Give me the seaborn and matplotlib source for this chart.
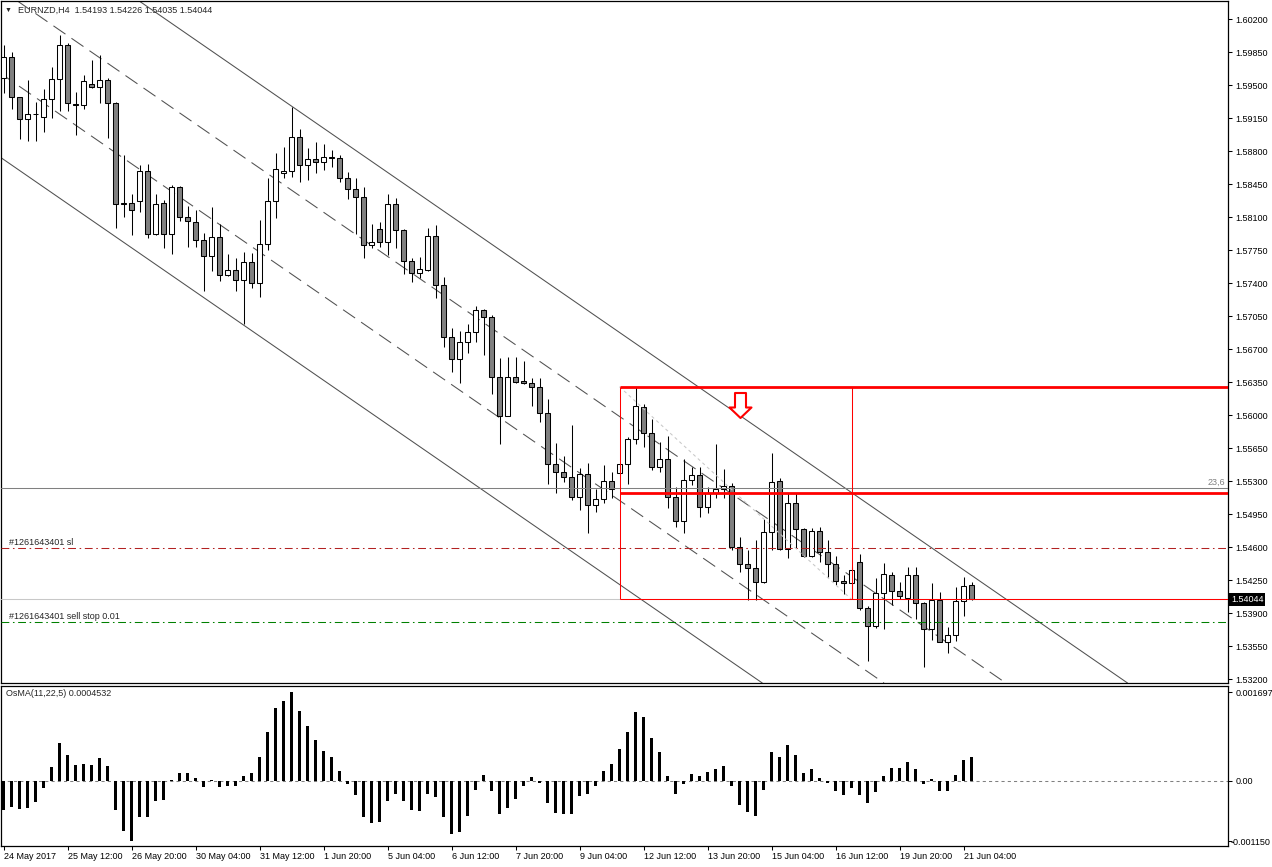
import matplotlib
matplotlib.use("Agg")
import numpy as np
import matplotlib.pyplot as plt
import matplotlib.transforms as mtransforms
from matplotlib.path import Path
import seaborn as sns

sns.set_style("ticks")
plt.rcParams['font.family'] = ['Liberation Sans', 'DejaVu Sans']  # after set_style
plt.rcParams['font.size'] = 6.5

# EURNZD H4 candles, bar 0 = 24 May 2017
opens = [1.59574, 1.59794, 1.59370, 1.59136, 1.59189, 1.59164, 1.59348, 1.59560, 1.59924, 1.59300,
         1.59285, 1.59510, 1.59476, 1.59553, 1.59306, 1.58238, 1.58245, 1.58267, 1.58585, 1.57917,
         1.58245, 1.57917, 1.58415, 1.58097, 1.58047, 1.57856, 1.57686, 1.57885, 1.57482, 1.57538,
         1.57429, 1.57626, 1.57397, 1.57810, 1.58273, 1.58563, 1.58588, 1.58952, 1.58648, 1.58712,
         1.58680, 1.58733, 1.58730, 1.58510, 1.58394, 1.58309, 1.57800, 1.57970, 1.57838, 1.58235,
         1.57962, 1.57637, 1.57503, 1.57540, 1.57899, 1.57376, 1.56831, 1.56591, 1.56771, 1.56877,
         1.57111, 1.57036, 1.56400, 1.55989, 1.56400, 1.56361, 1.56336, 1.56294, 1.56024, 1.55480,
         1.55399, 1.55346, 1.55134, 1.55374, 1.55042, 1.55106, 1.55303, 1.55382, 1.55477, 1.55742,
         1.56082, 1.55806, 1.55445, 1.55530, 1.55127, 1.54879, 1.55311, 1.55360, 1.55021, 1.55170,
         1.55212, 1.55250, 1.54597, 1.54420, 1.54374, 1.54226, 1.54756, 1.55300, 1.54576, 1.55064,
         1.54791, 1.54505, 1.54770, 1.54550, 1.54417, 1.54243, 1.54215, 1.54438, 1.53956, 1.53762,
         1.54109, 1.54303, 1.54133, 1.54056, 1.54303, 1.54003, 1.53727, 1.54038, 1.53596, 1.53664,
         1.54027, 1.54193]
highs = [1.59924, 1.59853, 1.59376, 1.59553, 1.59317, 1.59454, 1.59694, 1.60030, 1.59942, 1.59429,
         1.59606, 1.59765, 1.59818, 1.59571, 1.59323, 1.58758, 1.58344, 1.58652, 1.58662, 1.58344,
         1.58280, 1.58439, 1.58429, 1.58217, 1.58174, 1.57927, 1.58203, 1.58026, 1.57708, 1.57665,
         1.57729, 1.57718, 1.58068, 1.58510, 1.58776, 1.58839, 1.59270, 1.59030, 1.58829, 1.58892,
         1.58874, 1.58811, 1.58758, 1.58580, 1.58510, 1.58415, 1.58023, 1.58044, 1.58344, 1.58298,
         1.57975, 1.57662, 1.57679, 1.57980, 1.58015, 1.57460, 1.56920, 1.56894, 1.56965, 1.57156,
         1.57120, 1.57061, 1.56601, 1.56612, 1.56612, 1.56576, 1.56389, 1.56389, 1.56167, 1.55700,
         1.55565, 1.55894, 1.55435, 1.55494, 1.55212, 1.55470, 1.55399, 1.55477, 1.55770, 1.56300,
         1.56119, 1.55954, 1.55717, 1.55777, 1.55240, 1.55530, 1.55445, 1.55445, 1.55233, 1.55692,
         1.55427, 1.55276, 1.54703, 1.54568, 1.54674, 1.54897, 1.55600, 1.55329, 1.55170, 1.55170,
         1.54798, 1.54798, 1.54815, 1.54674, 1.54505, 1.54303, 1.54391, 1.54526, 1.53974, 1.54268,
         1.54434, 1.54338, 1.54226, 1.54391, 1.54385, 1.54020, 1.54221, 1.54126, 1.53755, 1.54173,
         1.54279, 1.54226]
lows = [1.59415, 1.59242, 1.58924, 1.58909, 1.58909, 1.58998, 1.59147, 1.59227, 1.59227, 1.58970,
        1.59242, 1.59465, 1.59306, 1.58935, 1.57987, 1.58103, 1.57906, 1.58156, 1.57874, 1.57909,
        1.57774, 1.57704, 1.58058, 1.57785, 1.57785, 1.57318, 1.57530, 1.57421, 1.57475, 1.57313,
        1.56967, 1.57352, 1.57255, 1.57750, 1.58093, 1.58510, 1.58521, 1.58474, 1.58492, 1.58563,
        1.58599, 1.58634, 1.58474, 1.58291, 1.57920, 1.57662, 1.57768, 1.57785, 1.57697, 1.57768,
        1.57496, 1.57414, 1.57450, 1.57530, 1.57238, 1.56718, 1.56459, 1.56336, 1.56654, 1.56777,
        1.56636, 1.56223, 1.55692, 1.55985, 1.56336, 1.56329, 1.56099, 1.55929, 1.55268, 1.55170,
        1.55293, 1.55098, 1.54992, 1.54745, 1.54974, 1.55070, 1.55117, 1.55382, 1.55268, 1.55698,
        1.55664, 1.55417, 1.55399, 1.55011, 1.54815, 1.54752, 1.55258, 1.54921, 1.54957, 1.55117,
        1.55117, 1.54568, 1.54332, 1.54038, 1.54038, 1.54220, 1.54568, 1.54568, 1.54480, 1.54586,
        1.54497, 1.54491, 1.54444, 1.54282, 1.54197, 1.54102, 1.54045, 1.53932, 1.53394, 1.53738,
        1.53734, 1.53985, 1.54045, 1.53914, 1.53833, 1.53330, 1.53614, 1.53590, 1.53479, 1.53607,
        1.53868, 1.54035]
closes = [1.59797, 1.59370, 1.59136, 1.59189, 1.59196, 1.59348, 1.59560, 1.59924, 1.59306, 1.59288,
          1.59542, 1.59476, 1.59553, 1.59306, 1.58238, 1.58245, 1.58174, 1.58585, 1.57917, 1.58238,
          1.57917, 1.58415, 1.58097, 1.58054, 1.57856, 1.57686, 1.57885, 1.57482, 1.57538, 1.57429,
          1.57626, 1.57397, 1.57810, 1.58273, 1.58612, 1.58588, 1.58952, 1.58648, 1.58712, 1.58680,
          1.58733, 1.58730, 1.58510, 1.58394, 1.58309, 1.57800, 1.57838, 1.57838, 1.58235, 1.57962,
          1.57637, 1.57503, 1.57545, 1.57899, 1.57376, 1.56831, 1.56591, 1.56771, 1.56877, 1.57111,
          1.57036, 1.56400, 1.55989, 1.56400, 1.56347, 1.56336, 1.56294, 1.56024, 1.55480, 1.55399,
          1.55346, 1.55127, 1.55374, 1.55042, 1.55106, 1.55303, 1.55212, 1.55477, 1.55742, 1.56092,
          1.55806, 1.55445, 1.55530, 1.55127, 1.54879, 1.55311, 1.55360, 1.55021, 1.55170, 1.55212,
          1.55250, 1.54597, 1.54420, 1.54374, 1.54226, 1.54756, 1.55286, 1.54576, 1.55064, 1.54791,
          1.54505, 1.54770, 1.54550, 1.54417, 1.54243, 1.54215, 1.54356, 1.53956, 1.53762, 1.54109,
          1.54314, 1.54133, 1.54080, 1.54303, 1.54003, 1.53727, 1.54038, 1.53596, 1.53664, 1.54027,
          1.54186, 1.54044]

# OsMA(11,22,5) histogram, units of 1e-4
osma = [-5.6, -4.9, -5.4, -5.1, -4.0, -1.3, 2.7, 7.3, 5.0, 3.1,
        3.3, 3.1, 4.3, 2.9, -5.6, -9.6, -11.5, -6.8, -6.8, -3.9,
        -3.7, 0.2, 1.5, 1.6, 0.6, -1.2, 0.25, -1.2, -1.0, -1.0,
        1.0, 1.5, 4.5, 9.4, 14.0, 15.3, 16.97, 13.4, 10.6, 7.9,
        5.8, 4.6, 2.0, -0.6, -2.7, -6.9, -8.1, -7.9, -3.9, -2.5,
        -3.9, -5.6, -5.8, -2.4, -3.1, -6.9, -10.2, -9.8, -6.6, -1.8,
        1.2, -2.0, -6.4, -5.2, -3.5, -1.0, 0.8, -0.45, -4.3, -6.2,
        -6.4, -6.4, -2.9, -2.5, -1.0, 2.0, 3.3, 6.2, 9.4, 13.1,
        12.3, 8.3, 5.6, 1.0, -2.5, -0.6, 1.4, 1.0, 1.8, 2.2,
        2.9, -1.0, -4.5, -6.0, -6.6, -1.8, 5.6, 4.6, 6.8, 5.0,
        1.6, 2.2, 0.6, -0.45, -2.0, -2.7, -1.4, -2.7, -4.3, -2.2,
        1.0, 2.4, 2.5, 3.7, 2.2, -0.6, 0.45, -2.0, -2.0, 1.2,
        4.1, 4.53]

date_labels = ["24 May 2017", "25 May 12:00", "26 May 20:00", "30 May 04:00", "31 May 12:00",
               "1 Jun 20:00", "5 Jun 04:00", "6 Jun 12:00", "7 Jun 20:00", "9 Jun 04:00",
               "12 Jun 12:00", "13 Jun 20:00", "15 Jun 04:00", "16 Jun 12:00", "19 Jun 20:00",
               "21 Jun 04:00"]
date_bars = [0, 8, 16, 24, 32, 40, 48, 56, 64, 72, 80, 88, 96, 104, 112, 120]
price_ticks = [1.60200, 1.59850, 1.59500, 1.59150, 1.58800, 1.58450, 1.58100, 1.57750, 1.57400,
               1.57050, 1.56700, 1.56350, 1.56000, 1.55650, 1.55300, 1.54950, 1.54600, 1.54250,
               1.53900, 1.53550, 1.53200]
osma_ticks = [16.97, 0.0, -11.5]
osma_tick_labels = ["0.001697", "0.00", "-0.001150"]

# drawn objects
channel_start = [1.58711, 1.59602, 1.60493, 1.61384]   # price at bar 0
channel_end = [1.49929, 1.50820, 1.51711, 1.52602]     # price at bar 150
channel_styles = ['-', (0, (14, 7)), (0, (14, 7)), '-']
box_bars = [77, 106]
box_top, box_mid, box_low = 1.56300, 1.55176, 1.54045
fibo_level = 1.55223
sl_price = 1.54586
sellstop_price = 1.53801
bid = 1.54044
arrow_bar, arrow_price = 92, 1.56106

n = len(closes)
bars = np.arange(n)
o = np.array(opens)
c = np.array(closes)

W, H = 1272, 867
fig = plt.figure(figsize=(W / 100, H / 100), dpi=100)
ax = fig.add_axes([1 / W, 1 - 683 / H, 1227 / W, 682 / H])
ax2 = fig.add_axes([1 / W, 1 - 846 / H, 1227 / W, 160 / H])
x_left, x_right = -0.3125, 153.0625

# channel lines
for p0, p1, st in zip(channel_start, channel_end, channel_styles):
    ax.axline((0, p0), (150, p1), color='#505050', lw=0.75, ls=st, zorder=1)

# candles
ax.vlines(bars, lows, highs, color='black', lw=0.75, zorder=2)
ax.bar(bars, np.abs(c - o), bottom=np.minimum(o, c), width=0.62,
       color=np.where(c >= o, 'white', '#808080'), edgecolor='black', linewidth=0.75, zorder=3)

# horizontal levels
ax.axhline(fibo_level, color='#808080', lw=0.75, zorder=4)
ax.axhline(bid, color='#c8c8c8', lw=0.75, zorder=4)
ax.axhline(sl_price, color='#b22222', lw=0.75, ls=(0, (7.5, 3.5, 1.5, 3.5)), zorder=4)
ax.axhline(sellstop_price, color='#008000', lw=0.75, ls=(0, (7.5, 3.5, 1.5, 3.5)), zorder=4)

# red box / fibo
ax.plot(box_bars, [box_top, box_low], color='#c8c8c8', lw=0.75, ls=(0, (3, 3)), zorder=4)
ax.hlines([box_top, box_mid], box_bars[0], x_right, color='red', lw=2.0, zorder=5)
ax.hlines(box_low, box_bars[0], x_right, color='red', lw=0.75, zorder=5)
ax.vlines(box_bars, box_low, box_top, color='red', lw=0.75, zorder=5)

arrow_path = Path([(-5.5, 12.5), (5.5, 12.5), (5.5, -2), (11, -2), (0, -12.5), (-11, -2), (-5.5, -2), (-5.5, 12.5)],
                  [Path.MOVETO] + [Path.LINETO] * 6 + [Path.CLOSEPOLY])
ax.plot([arrow_bar], [arrow_price], marker=arrow_path, ms=18, mfc='white', mec='red', mew=1.5,
        ls='none', zorder=6)

ax.set_xlim(x_left, x_right)
ax.set_ylim(1.53158, 1.60391)
ax.set_xticks([])
ax.yaxis.tick_right()
ax.set_yticks(price_ticks)
ax.set_yticklabels([f"{p:.5f}" for p in price_ticks])
ax.tick_params(axis='y', direction='out', length=3, width=0.75, pad=2.5, labelsize=6.5, colors='black')

blend = mtransforms.blended_transform_factory(ax.transAxes, ax.transData)
ax.annotate("#1261643401 sl", xy=(8 / 1227, sl_price), xycoords=blend, xytext=(0, 1),
            textcoords='offset points', va='bottom', fontsize=6.5)
ax.annotate("#1261643401 sell stop 0.01", xy=(8 / 1227, sellstop_price), xycoords=blend, xytext=(0, 1),
            textcoords='offset points', va='bottom', fontsize=6.5)
ax.annotate("23,6", xy=(0.998, fibo_level), xycoords=blend, xytext=(0, 1),
            textcoords='offset points', va='bottom', ha='right', fontsize=6.5, color='#808080')
ax.text(1.0 + 3 / 1227, bid, f"{bid:.5f}", transform=blend, ha='left', va='center', color='white',
        fontsize=6.5, clip_on=False, zorder=10,
        bbox=dict(boxstyle='square,pad=0.2', fc='black', ec='none'))

# OsMA panel
sns.barplot(x=bars, y=osma, native_scale=True, color='black', saturation=1, width=0.4,
            errorbar=None, linewidth=0, ax=ax2)
ax2.axhline(0, color='#808080', lw=0.75, ls=(0, (3, 3)), zorder=0)
ax2.set_xlim(x_left, x_right)
ax2.set_ylim(-12.43, 18.16)
ax2.set_xlabel('')
ax2.set_ylabel('')
ax2.yaxis.tick_right()
ax2.set_yticks(osma_ticks)
ax2.set_yticklabels(osma_tick_labels)
ax2.set_xticks(date_bars)
ax2.set_xticklabels(date_labels, ha='left')
ax2.tick_params(axis='y', direction='out', length=3, width=0.75, pad=2.5, labelsize=6.5, colors='black')
ax2.tick_params(axis='x', direction='out', length=3, width=0.75, pad=1.5, labelsize=6.5, colors='black')

# the negative label sits a bit further left, as in the terminal
neg_label = ax2.get_yticklabels()[-1]
neg_label.set_transform(neg_label.get_transform() + mtransforms.ScaledTranslation(-5 / 100, 0, fig.dpi_scale_trans))

for a in (ax, ax2):
    a.set_facecolor('white')
    for s in a.spines.values():
        s.set_visible(True)
        s.set_color('black')
        s.set_linewidth(0.9)

fig.text(8 / W, 1 - 10 / H, "\u25BC", fontsize=5, va='center', ha='center')
fig.text(18 / W, 1 - 10 / H, "EURNZD,H4  1.54193 1.54226 1.54035 1.54044", fontsize=6.5, va='center')
fig.text(6 / W, 1 - 693 / H, "OsMA(11,22,5) 0.0004532", fontsize=6.5, va='center')

fig.savefig("out.png", dpi=100)
